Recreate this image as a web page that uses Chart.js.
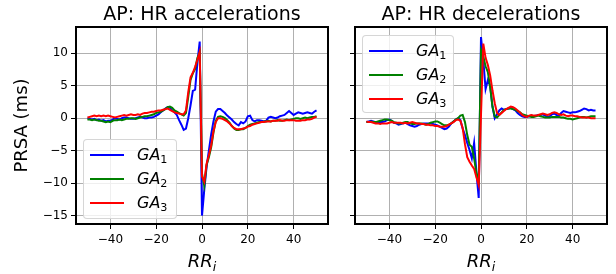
<!DOCTYPE html>
<html>
<head>
<meta charset="utf-8">
<script src="https://cdn.jsdelivr.net/npm/chart.js@4.4.1/dist/chart.umd.min.js"></script>
<style>
  body { margin: 0; background: #fff; font-family: "DejaVu Sans", sans-serif; }
  #wrap { position: relative; width: 616px; height: 274px; overflow: hidden; }
  canvas { position: absolute; top: 0; }
  .title { position: absolute; top: 4px; font-size: 19px; line-height: 19px; white-space: nowrap; transform: translateX(-50%); color: #000; }
  .xlabel { position: absolute; top: 252px; font-size: 18px; line-height: 18px; white-space: nowrap; transform: translateX(-50%); font-style: italic; color: #000; }
  .xlabel sub, .legend sub { font-size: 70%; line-height: 0; position: relative; vertical-align: baseline; top: 0.3em; }
  .legend { position: absolute; background: rgba(255,255,255,0.8); border: 1px solid rgba(204,204,204,0.8); border-radius: 4px; box-sizing: border-box; z-index: 2; }
  .legend .row { position: absolute; left: 0; height: 0; }
  .legend .swatch { position: absolute; left: 6px; width: 34px; height: 2px; top: -1px; }
  .legend .lbl { position: absolute; left: 53px; top: -9px; font-size: 16px; line-height: 18px; white-space: nowrap; color: #000; }
  .legend .lbl i { font-style: italic; }
</style>
</head>
<body>
<div id="wrap">
  <canvas id="accChart" width="340" height="274" style="left:0"></canvas>
  <canvas id="decChart" width="276" height="274" style="left:340px"></canvas>
  <div class="title" style="left:202px">AP: HR accelerations</div>
  <div class="title" style="left:481px">AP: HR decelerations</div>
  <div class="xlabel" style="left:202px">RR<sub>i</sub></div>
  <div class="xlabel" style="left:481px">RR<sub>i</sub></div>
  <div class="legend" id="accLegend" style="left:83px; top:139px; width:94px; height:80px"></div>
  <div class="legend" id="decLegend" style="left:362px; top:35px; width:92px; height:78px"></div>
</div>
<script>
// lag axis (RR interval index)
const lags = Array.from({ length: 101 }, (_, i) => i - 50);

// axis ticks
const xTicks = [-40, -20, 0, 20, 40];
const yTicks = [-15, -10, -5, 0, 5, 10];

// HR accelerations, PRSA in ms
const accGA1 = [
  0.0, -0.1, -0.2, -0.1, -0.3, -0.2, -0.4, -0.3, -0.5, -0.4,
  -0.4, -0.2, 0.0, -0.1, -0.2, 0.0, 0.1, 0.1, 0.0, -0.1,
  -0.1, 0.0, 0.1, 0.2, 0.1, 0.0, 0.0, 0.1, 0.1, 0.2,
  0.4, 0.6, 0.9, 1.2, 1.5, 1.7, 1.6, 1.2, 0.9, 0.5,
  -0.3, -1.0, -1.8, -1.6, 0.0, 2.0, 4.2, 4.4, 8.6, 11.8,
  -15.0,
  -11.0, -7.5, -5.0, -2.5, -0.5, 1.0, 1.4, 1.4, 1.1, 0.8,
  0.4, 0.1, -0.2, -0.6, -0.9, -1.1, -0.6, -0.8, -0.5, 0.3,
  0.4, -0.3, -0.5, -0.3, -0.3, -0.4, -0.5, -0.4, 0.1, 0.2,
  0.1, 0.0, 0.1, 0.3, 0.4, 0.5, 0.8, 1.1, 0.8, 0.5,
  0.7, 0.9, 0.8, 0.7, 0.8, 0.9, 0.8, 0.7, 1.0, 1.2
];
const accGA2 = [
  -0.2, -0.2, -0.3, -0.2, -0.3, -0.4, -0.4, -0.5, -0.6, -0.5,
  -0.6, -0.4, -0.3, -0.3, -0.2, -0.3, -0.2, -0.1, -0.1, 0.0,
  0.0, -0.1, 0.0, 0.1, 0.2, 0.3, 0.3, 0.4, 0.5, 0.6,
  0.8, 0.9, 1.0, 1.2, 1.4, 1.7, 1.8, 1.6, 1.2, 1.0,
  0.8, 0.6, 0.4, 0.8, 3.3, 5.9, 6.9, 7.6, 9.3, 10.1,
  -8.5,
  -10.4, -7.2, -6.0, -4.5, -2.2, -0.4, 0.2, 0.3, 0.2, 0.0,
  -0.3, -0.7, -1.2, -1.6, -1.8, -1.8, -1.7, -1.7, -1.5, -1.2,
  -1.0, -0.9, -0.8, -0.7, -0.6, -0.6, -0.5, -0.5, -0.4, -0.5,
  -0.4, -0.4, -0.3, -0.4, -0.4, -0.3, -0.2, -0.3, -0.2, -0.1,
  0.0, 0.0, -0.1, 0.0, 0.1, 0.0, 0.1, 0.2, 0.2, 0.3
];
const accGA3 = [
  0.1, 0.2, 0.3, 0.4, 0.3, 0.4, 0.3, 0.4, 0.3, 0.4,
  0.3, 0.2, 0.1, 0.2, 0.3, 0.4, 0.5, 0.4, 0.5, 0.6,
  0.5, 0.5, 0.6, 0.5, 0.7, 0.8, 0.8, 0.9, 1.0, 1.0,
  1.1, 1.2, 1.2, 1.3, 1.4, 1.5, 1.3, 1.1, 0.9, 0.8,
  0.7, 0.6, 0.6, 1.2, 4.0, 6.3, 7.0, 7.9, 9.0, 10.2,
  -9.0,
  -9.8, -7.0, -5.7, -4.2, -2.0, -0.6, 0.0, 0.0, -0.1, -0.3,
  -0.5, -0.8, -1.2, -1.5, -1.7, -1.7, -1.7, -1.6, -1.5, -1.3,
  -1.2, -1.0, -0.9, -0.8, -0.7, -0.6, -0.6, -0.5, -0.5, -0.5,
  -0.4, -0.4, -0.4, -0.3, -0.4, -0.4, -0.3, -0.3, -0.3, -0.3,
  -0.4, -0.4, -0.4, -0.3, -0.3, -0.2, -0.2, -0.1, 0.1, 0.2
];

// HR decelerations, PRSA in ms
const decGA1 = [
  -0.6, -0.5, -0.4, -0.5, -0.6, -0.7, -0.6, -0.6, -0.5, -0.3,
  -0.2, -0.4, -0.7, -0.8, -1.0, -0.9, -0.8, -0.7, -0.9, -1.1,
  -1.2, -1.3, -1.2, -1.0, -0.9, -0.8, -0.8, -0.8, -0.8, -0.9,
  -1.0, -1.1, -1.3, -1.5, -1.7, -1.6, -1.3, -0.8, -0.5, -0.2,
  0.0, -0.3, -1.6, -2.6, -3.8, -4.9, -6.2, -3.8, -8.3, -12.3,
  12.5,
  9.0, 4.5, 5.9, 5.0, 1.8, 0.0, 0.6, 1.2, 1.5, 1.3,
  1.4, 1.5, 1.6, 1.4, 1.2, 0.8, 0.5, 0.3, 0.2, 0.2,
  0.3, 0.4, 0.3, 0.4, 0.5, 0.5, 0.6, 0.4, 0.2, 0.3,
  0.6, 0.7, 0.5, 0.4, 0.8, 1.1, 1.0, 0.9, 0.8, 0.9,
  0.9, 1.0, 1.1, 1.3, 1.5, 1.4, 1.2, 1.3, 1.2, 1.2
];
const decGA2 = [
  -0.6, -0.6, -0.5, -0.6, -0.6, -0.5, -0.4, -0.3, -0.2, -0.2,
  -0.3, -0.4, -0.6, -0.7, -0.8, -0.8, -0.7, -0.6, -0.6, -0.8,
  -0.9, -0.9, -0.8, -0.8, -0.8, -0.9, -1.0, -0.9, -0.7, -0.6,
  -0.5, -0.5, -0.7, -0.9, -1.1, -1.1, -1.0, -0.8, -0.5, -0.2,
  0.0, 0.4, 0.5, -0.6, -2.6, -4.1, -4.4, -6.2, -8.5, -9.5,
  10.5,
  9.5, 8.0, 7.1, 4.8, 1.8, 0.3, 0.1, 0.5, 0.9, 1.3,
  1.4, 1.5, 1.5, 1.4, 1.3, 1.1, 0.9, 0.6, 0.5, 0.4,
  0.3, 0.2, 0.2, 0.3, 0.4, 0.3, 0.2, 0.1, 0.1, 0.1,
  0.2, 0.2, 0.2, 0.2, 0.1, 0.1, 0.0, -0.1, -0.1, -0.2,
  -0.1, 0.0, 0.1, 0.2, 0.2, 0.1, 0.2, 0.3, 0.3, 0.3
];
const decGA3 = [
  -0.5, -0.6, -0.6, -0.7, -0.8, -0.8, -0.9, -0.8, -0.8, -0.8,
  -0.7, -0.6, -0.7, -0.7, -0.7, -0.7, -0.8, -0.7, -0.8, -0.7,
  -0.6, -0.7, -0.8, -0.8, -0.9, -0.9, -1.0, -1.0, -1.1, -1.1,
  -1.2, -1.2, -1.3, -1.3, -1.3, -1.2, -1.0, -0.8, -0.6, -0.3,
  -0.2, -0.4, -1.5, -4.0, -6.0, -6.7, -7.3, -7.8, -9.1, -10.3,
  0.5,
  11.5, 9.3, 8.2, 6.6, 4.3, 2.3, 0.8, 0.5, 0.8, 1.1,
  1.4, 1.6, 1.8, 1.7, 1.5, 1.2, 0.9, 0.5, 0.3, 0.2,
  0.4, 0.5, 0.4, 0.4, 0.5, 0.6, 0.7, 0.6, 0.5, 0.6,
  0.8, 0.9, 0.8, 0.6, 0.5, 0.6, 0.4, 0.3, 0.4, 0.4,
  0.3, 0.3, 0.2, 0.1, 0.1, 0.1, 0.1, 0.0, 0.0, 0.0
];

const seriesNames = ['1', '2', '3'];
const seriesColors = ['#0000ff', '#008000', '#ff0000'];

const FONT = '"DejaVu Sans", sans-serif';
const minus = v => (v < 0 ? '\u2212' + Math.abs(v) : String(v));

// black box around the plot area, like matplotlib spines
const framePlugin = {
  id: 'frame',
  afterDraw(chart) {
    const { ctx, chartArea: a } = chart;
    ctx.save();
    ctx.strokeStyle = '#000';
    ctx.lineWidth = 2;
    ctx.strokeRect(a.left, a.top, a.right - a.left, a.bottom - a.top);
    ctx.restore();
  }
};

function makeChart(canvasId, seriesList, yAxisWidth, rightPad, showYLabels) {
  const datasets = seriesList.map((vals, i) => ({
    data: lags.map((x, k) => ({ x: x, y: vals[k] })),
    borderColor: seriesColors[i],
    borderWidth: 2,
    pointRadius: 0,
    fill: false,
    tension: 0,
    order: 3 - i // red on top
  }));

  return new Chart(document.getElementById(canvasId), {
    type: 'line',
    data: { datasets: datasets },
    options: {
      responsive: false,
      animation: false,
      events: [],
      layout: { padding: { left: 0, right: rightPad, top: 27, bottom: 0 } },
      plugins: { legend: { display: false }, tooltip: { enabled: false }, title: { display: false } },
      scales: {
        x: {
          type: 'linear',
          min: -55,
          max: 55,
          afterBuildTicks: s => { s.ticks = xTicks.map(v => ({ value: v })); },
          afterFit: s => { s.height = 50; },
          grid: { color: '#b0b0b0', lineWidth: 1, tickColor: '#000', tickLength: 5 },
          border: { display: false },
          ticks: { color: '#000', font: { family: FONT, size: 12 }, padding: 4, maxRotation: 0, autoSkip: false, callback: minus }
        },
        y: {
          type: 'linear',
          min: -16.3,
          max: 14.05,
          afterBuildTicks: s => { s.ticks = yTicks.map(v => ({ value: v })); },
          afterFit: s => { s.width = yAxisWidth; },
          grid: { color: '#b0b0b0', lineWidth: 1, tickColor: '#000', tickLength: 5 },
          border: { display: false },
          ticks: { display: showYLabels, color: '#000', font: { family: FONT, size: 12 }, padding: 3, autoSkip: false, callback: minus },
          title: {
            display: showYLabels,
            text: 'PRSA (ms)',
            color: '#000',
            font: { family: FONT, size: 18 },
            padding: { top: 12, bottom: 0 }
          }
        }
      }
    },
    plugins: [framePlugin]
  });
}

function makeLegend(id) {
  const box = document.getElementById(id);
  seriesNames.forEach((n, i) => {
    const row = document.createElement('div');
    row.className = 'row';
    row.style.top = (15 + 24 * i) + 'px';
    row.innerHTML = '<span class="swatch" style="background:' + seriesColors[i] + '"></span>' +
      '<span class="lbl"><i>GA</i><sub>' + n + '</sub></span>';
    box.appendChild(row);
  });
}

makeChart('accChart', [accGA1, accGA2, accGA3], 76, 12, true);
makeChart('decChart', [decGA1, decGA2, decGA3], 15, 9, false);
makeLegend('accLegend');
makeLegend('decLegend');
</script>
</body>
</html>
